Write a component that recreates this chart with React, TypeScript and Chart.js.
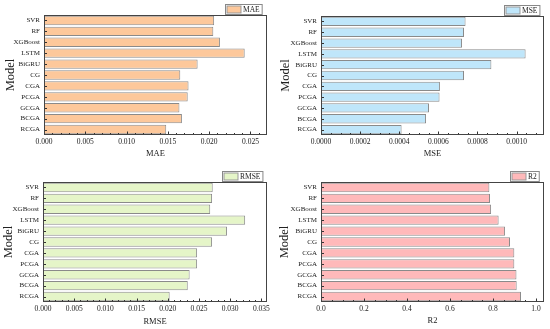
import React, { useEffect, useRef } from 'react';
import { Chart, registerables } from 'chart.js';
Chart.register(...registerables);

const models = ['SVR', 'RF', 'XGBoost', 'LSTM', 'BiGRU', 'CG', 'CGA', 'PCGA', 'GCGA', 'BCGA', 'RCGA'];
const maeValues = [0.0206, 0.0205, 0.0213, 0.0243, 0.0186, 0.0165, 0.0175, 0.0174, 0.0164, 0.0167, 0.0148];
const mseValues = [0.000739, 0.000731, 0.000721, 0.001046, 0.000871, 0.000731, 0.000608, 0.000606, 0.000552, 0.000537, 0.000412];
const rmseValues = [0.0272, 0.0271, 0.0268, 0.0324, 0.0295, 0.0271, 0.0247, 0.0247, 0.0235, 0.0232, 0.0203];
const r2Values = [0.783, 0.786, 0.791, 0.826, 0.856, 0.879, 0.899, 0.899, 0.909, 0.910, 0.930];

const maeTicks = [0, 0.005, 0.01, 0.015, 0.02, 0.025];
const mseTicks = [0, 0.0002, 0.0004, 0.0006, 0.0008, 0.001];
const rmseTicks = [0, 0.005, 0.01, 0.015, 0.02, 0.025, 0.03, 0.035];
const r2Ticks = [0, 0.2, 0.4, 0.6, 0.8, 1.0];

const FONT = '"Liberation Serif", "Times New Roman", serif';

const framePlugin = {
  id: 'frame',
  afterDraw(chart: any, _args: any, opts: any) {
    const { ctx, chartArea: a } = chart;
    const xs = chart.scales.x;
    const ys = chart.scales.y;
    ctx.save();
    ctx.strokeStyle = '#333';
    ctx.lineWidth = 1;
    ctx.beginPath();
    const b = Math.round(a.bottom) - 0.5;
    const ticks: number[] = opts.ticks;
    ticks.forEach((v) => {
      const px = Math.round(xs.getPixelForValue(v)) + 0.5;
      ctx.moveTo(px, b);
      ctx.lineTo(px, b - 3);
    });
    const step = ticks[1] - ticks[0];
    const mstep = step / opts.minor;
    for (let i = 1; i * mstep < xs.max; i++) {
      if (i % opts.minor === 0) continue;
      const px = Math.round(xs.getPixelForValue(i * mstep)) + 0.5;
      ctx.moveTo(px, b);
      ctx.lineTo(px, b - 1.5);
    }
    const l = Math.round(a.left) + 0.5;
    models.forEach((_m, i) => {
      const py = Math.round(ys.getPixelForValue(i)) + 0.5;
      ctx.moveTo(l, py);
      ctx.lineTo(l + 2.5, py);
    });
    ctx.stroke();
    ctx.strokeStyle = '#444';
    ctx.strokeRect(Math.round(a.left) + 0.5, Math.round(a.top) + 0.5, Math.round(a.right - a.left) - 1, Math.round(a.bottom - a.top) - 1);

    // legend
    const ds = chart.data.datasets[0];
    ctx.font = '7.5px ' + FONT;
    const tw = ctx.measureText(ds.label).width;
    const h = 10;
    const w = 1.5 + 14 + 2 + tw + 2.5;
    const x1 = Math.round(a.right - 5 - w) + 0.5;
    const y1 = Math.round(a.top - 1 - h) + 0.5;
    ctx.fillStyle = '#fff';
    ctx.fillRect(x1, y1, w, h);
    ctx.strokeStyle = '#888';
    ctx.strokeRect(x1, y1, w, h);
    ctx.fillStyle = ds.backgroundColor;
    ctx.fillRect(x1 + 1.5, y1 + 1.5, 14, h - 3);
    ctx.strokeStyle = '#999';
    ctx.strokeRect(x1 + 1.5, y1 + 1.5, 14, h - 3);
    ctx.fillStyle = '#222';
    ctx.textBaseline = 'middle';
    ctx.textAlign = 'left';
    ctx.fillText(ds.label, x1 + 1.5 + 14 + 2, y1 + h / 2 + 0.5);
    ctx.restore();
  },
};

type PanelCfg = {
  label: string;
  values: number[];
  ticks: number[];
  color: string;
  max: number;
  minor: number;
  decimals: number;
  x: number;
  y: number;
  w: number;
  h: number;
  left: number;
  right: number;
  top: number;
  bottom: number;
  titlePad: number;
  yTitlePad: number;
};

function Panel({ cfg }: { cfg: PanelCfg }) {
  const ref = useRef<HTMLCanvasElement>(null);
  useEffect(() => {
    const chart = new Chart(ref.current as HTMLCanvasElement, {
      type: 'bar',
      data: {
        labels: models,
        datasets: [
          {
            label: cfg.label,
            data: cfg.values,
            backgroundColor: cfg.color,
            borderColor: '#8a8a8a',
            borderWidth: 1,
            borderSkipped: false,
            barPercentage: 0.86,
            categoryPercentage: 1,
          },
        ],
      },
      options: {
        indexAxis: 'y',
        responsive: false,
        animation: false,
        devicePixelRatio: 1,
        layout: { padding: { left: 0, top: cfg.top, right: cfg.w - cfg.right, bottom: 0 } },
        plugins: {
          legend: { display: false },
          tooltip: { enabled: false },
          frame: { ticks: cfg.ticks, minor: cfg.minor },
        } as any,
        scales: {
          x: {
            type: 'linear',
            min: 0,
            max: cfg.max,
            grid: { display: false, drawTicks: false },
            border: { display: false },
            afterBuildTicks: (s: any) => {
              s.ticks = cfg.ticks.map((v) => ({ value: v }));
            },
            afterFit: (s: any) => {
              s.height = cfg.h - cfg.bottom;
            },
            ticks: {
              padding: 3,
              maxRotation: 0,
              autoSkip: false,
              color: '#222',
              font: { family: FONT, size: 7.5 },
              callback: (v: any) => Number(v).toFixed(cfg.decimals),
            },
            title: {
              display: true,
              text: cfg.label,
              color: '#222',
              font: { family: FONT, size: 8.5, lineHeight: 1.2 },
              padding: { top: 0, bottom: cfg.titlePad },
            },
          },
          y: {
            type: 'category',
            grid: { display: false, drawTicks: false },
            border: { display: false },
            afterFit: (s: any) => {
              s.width = cfg.left;
            },
            ticks: {
              padding: 4,
              autoSkip: false,
              color: '#222',
              font: { family: FONT, size: 7 },
            },
            title: {
              display: true,
              text: 'Model',
              color: '#222',
              font: { family: FONT, size: 12.5, lineHeight: 1.2 },
              padding: { top: cfg.yTitlePad, bottom: 0 },
            },
          },
        },
      },
      plugins: [framePlugin],
    } as any);
    return () => chart.destroy();
  }, []);
  return (
    <canvas
      ref={ref}
      width={cfg.w}
      height={cfg.h}
      style={{ position: 'absolute', left: cfg.x, top: cfg.y, width: cfg.w, height: cfg.h }}
    />
  );
}

const panels: PanelCfg[] = [
  { label: 'MAE', values: maeValues, ticks: maeTicks, color: '#FDC89B', max: 0.027, minor: 5, decimals: 3, x: 0, y: 0, w: 275, h: 165, left: 44, right: 267, top: 15, bottom: 135, titlePad: 6, yTitlePad: 3 },
  { label: 'MSE', values: mseValues, ticks: mseTicks, color: '#BFE6FA', max: 0.00114, minor: 4, decimals: 4, x: 275, y: 0, w: 275, h: 165, left: 46, right: 269, top: 16, bottom: 135, titlePad: 6, yTitlePad: 3.5 },
  { label: 'RMSE', values: rmseValues, ticks: rmseTicks, color: '#E5F5C8', max: 0.0359, minor: 5, decimals: 3, x: 0, y: 165, w: 275, h: 164, left: 43, right: 267, top: 17, bottom: 137, titlePad: 2, yTitlePad: 1 },
  { label: 'R2', values: r2Values, ticks: r2Ticks, color: '#FFB9BA', max: 1.037, minor: 4, decimals: 1, x: 275, y: 165, w: 275, h: 164, left: 46, right: 269, top: 17, bottom: 137, titlePad: 3, yTitlePad: 2.5 },
];

export default function App() {
  return (
    <div style={{ position: 'fixed', left: 0, top: 0, width: 550, height: 329, background: '#fff', overflow: 'hidden' }}>
      {panels.map((p) => (
        <Panel key={p.label} cfg={p} />
      ))}
    </div>
  );
}
